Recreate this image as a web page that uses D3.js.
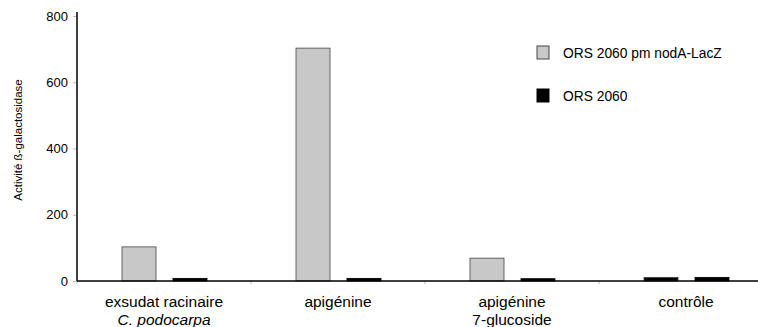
<!DOCTYPE html>
<html>
<head>
<meta charset="utf-8">
<script src="https://cdn.jsdelivr.net/npm/d3@7"></script>
<style>
  body { margin:0; background:#fff; }
  text { font-family: "Liberation Sans", Arial, sans-serif; }
</style>
</head>
<body>
<div class="canvas"></div>
<script>
// data
const categories = [['exsudat racinaire', 'C. podocarpa'], ['apigénine'], ['apigénine', '7-glucoside'], ['contrôle']]
const series = ['ORS 2060 pm nodA-LacZ', 'ORS 2060']
const lacZ = [103, 703, 69, 11]
const wild = [8, 8, 7, 11]
const yTicks = [0, 200, 400, 600, 800]

const colors = {'ORS 2060 pm nodA-LacZ':'#c8c8c8', 'ORS 2060':'#000'}

const width = 758, height = 327
const margin = {top:16, left:77, bottom:46}

const svg = d3.select('.canvas').append('svg').attr('width', width).attr('height', height)

// scales
const x = d3.scaleBand().domain(d3.range(categories.length)).range([margin.left, margin.left + 174*4])
const xs = d3.scaleBand().domain(series).range([45, 130]).paddingInner(0.333)
const y = d3.scaleLinear().domain([0, 800]).range([height - margin.bottom, margin.top])

// y axis
const yAxis = d3.axisLeft(y).tickValues(yTicks).tickSize(4).tickPadding(5)
const yg = svg.append('g').attr('transform', `translate(${margin.left},0)`).call(yAxis)
yg.select('.domain').remove()
yg.selectAll('.tick line').attr('stroke', '#bbb')
yg.selectAll('.tick text').attr('font-size', 13).attr('fill', '#000')
svg.append('line').attr('x1', margin.left).attr('x2', margin.left)
  .attr('y1', y(800) - 4).attr('y2', y(0)).attr('stroke', '#000').attr('stroke-width', 1.5)

// x axis ticks at band edges
svg.append('g').selectAll('line').data(d3.range(categories.length + 1)).join('line')
  .attr('x1', d => margin.left + d*174).attr('x2', d => margin.left + d*174)
  .attr('y1', y(0)).attr('y2', y(0) + 3).attr('stroke', '#bbb')

// bars (tiny bars come out dark in the original because of the outline)
const rows = categories.map((c, i) => ({i, vals: [lacZ[i], wild[i]]}))
const groups = svg.append('g').selectAll('g').data(rows).join('g')
  .attr('transform', d => `translate(${x(d.i)},0)`)
groups.selectAll('rect').data(d => d.vals.map((v, k) => ({s: series[k], v}))).join('rect')
  .attr('x', d => xs(d.s)).attr('width', xs.bandwidth())
  .attr('y', d => y(d.v)).attr('height', d => y(0) - y(d.v))
  .attr('fill', d => (y(0) - y(d.v)) < 5 ? '#000' : colors[d.s])
  .attr('stroke', d => d.s === series[0] ? '#444' : '#000').attr('stroke-width', 0.8)

svg.append('line').attr('x1', margin.left).attr('x2', width)
  .attr('y1', y(0)).attr('y2', y(0)).attr('stroke', '#000').attr('stroke-width', 1.5)

// category labels
const labels = svg.append('g').selectAll('text').data(categories).join('text')
  .attr('text-anchor', 'middle').attr('font-size', 15.5)
  .attr('x', (d, i) => x(i) + x.bandwidth()/2).attr('y', 307)
labels.selectAll('tspan').data(d => d).join('tspan')
  .attr('x', function(){ return this.parentNode.getAttribute('x') })
  .attr('dy', (d, k) => k ? 18 : 0)
  .attr('font-style', d => d.startsWith('C.') ? 'italic' : 'normal')
  .text(d => d)

// y label
svg.append('text').attr('transform', 'translate(22,140) rotate(-90)')
  .attr('text-anchor', 'middle').attr('font-size', 11.5).text('Activité ß-galactosidase')

// legend
const legend = svg.append('g').selectAll('g').data(series).join('g')
  .attr('transform', (d, i) => `translate(537,${46 + i*43})`)
legend.append('rect').attr('width', 12).attr('height', 13)
  .attr('fill', d => colors[d]).attr('stroke', d => d === series[0] ? '#444' : '#000')
legend.append('text').attr('x', 26).attr('y', 11.5).attr('font-size', 13.8).text(d => d)
</script>
</body>
</html>
